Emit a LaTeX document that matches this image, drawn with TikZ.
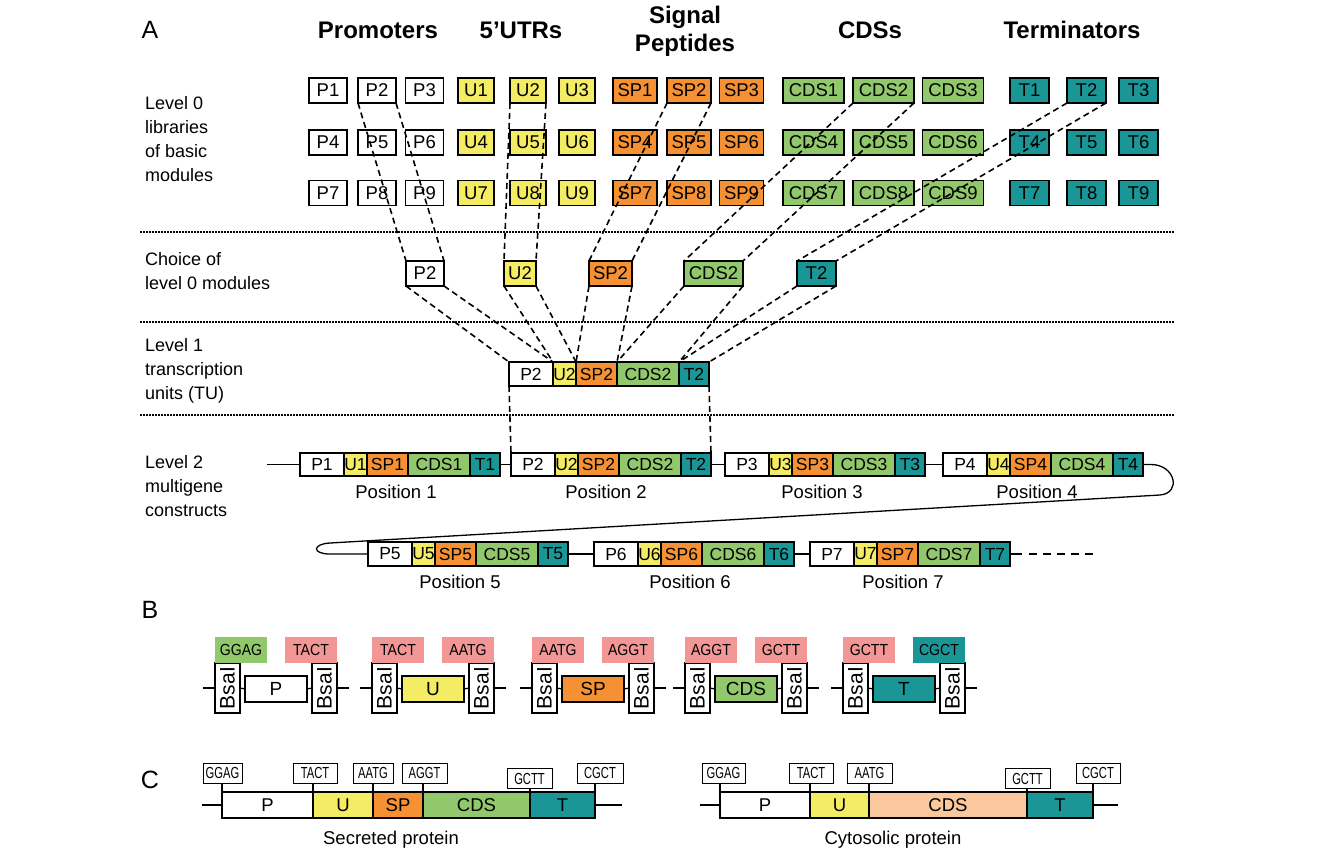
\documentclass[tikz,border=0pt]{standalone}
\usepackage{fontspec}
\setmainfont{Liberation Sans}
\newfontfamily\narrowf[FakeStretch=0.7]{Liberation Sans}
\newfontfamily\semif[FakeStretch=0.88]{Liberation Sans}
\usepackage{graphicx}
\definecolor{cyel}{RGB}{243,236,100}
\definecolor{corg}{RGB}{245,145,50}
\definecolor{cgrn}{RGB}{146,200,108}
\definecolor{cteal}{RGB}{26,150,150}
\definecolor{cpink}{RGB}{242,150,150}
\definecolor{cpeach}{RGB}{250,200,156}
\newcommand\tumod[5]{%
 \node[seg,minimum height=#5,minimum width=44pt,fill=white] (#1P) at (#2,#3) {P#4};
 \node[seg,minimum height=#5,minimum width=23pt,fill=cyel] (#1U) at (#1P.east) {U#4};
 \node[seg,minimum height=#5,minimum width=41pt,fill=corg] (#1S) at (#1U.east) {SP#4};
 \node[seg,minimum height=#5,minimum width=62pt,fill=cgrn] (#1C) at (#1S.east) {CDS#4};
 \node[seg,minimum height=#5,minimum width=30pt,fill=cteal] (#1T) at (#1C.east) {T#4};}
\begin{document}
\begin{tikzpicture}[x=1pt,y=-1pt,
 lib/.style={draw,line width=1.3pt,inner sep=0pt,outer sep=0pt,minimum height=25pt,font=\fontsize{18.5}{20}\selectfont},
 seg/.style={draw,line width=1.3pt,inner sep=0pt,outer sep=0pt,font=\fontsize{17.5}{20}\selectfont,anchor=west},
 conn/.style={line width=1.6pt,dash pattern=on 6pt off 4pt},
 sepline/.style={line width=1.5pt,dash pattern=on 1.5pt off 1.5pt},
 wire/.style={line width=1.3pt},
 lab/.style={font=\fontsize{18}{24}\selectfont,align=left,anchor=west,inner sep=0pt},
 head/.style={font=\fontsize{24}{28}\selectfont\bfseries,align=center,inner sep=0pt},
 letter/.style={font=\fontsize{25}{28}\selectfont,inner sep=0pt},
 poslab/.style={font=\fontsize{18.5}{22}\selectfont,inner sep=0pt},
 bsa/.style={draw,fill=white,line width=1.3pt,inner sep=0pt,outer sep=0pt,minimum width=25pt,minimum height=50pt,font=\fontsize{21}{22}\selectfont},
 bbox/.style={draw,line width=1.3pt,inner sep=0pt,outer sep=0pt,minimum height=26pt,font=\fontsize{19}{22}\selectfont},
 tag/.style={inner sep=0pt,minimum width=52pt,minimum height=26pt,font=\semif\fontsize{16}{18}\selectfont},
 cseg/.style={draw,line width=1.3pt,inner sep=0pt,outer sep=0pt,minimum height=26pt,anchor=west,font=\fontsize{18.5}{22}\selectfont},
 ctag/.style={draw,fill=white,line width=1pt,inner sep=0pt,outer sep=0pt,minimum height=20pt,font=\narrowf\fontsize{16}{18}\selectfont}
]
\useasboundingbox (0,0) rectangle (1324,857);
\fill[white] (0,0) rectangle (1324,857);
% letters and headings
\node[letter] (LA) at (150,30) {A};
\node[letter] (LB) at (150,610) {B};
\node[letter] (LC) at (150,780) {C};
\node[head] (hP) at (378,30) {Promoters};
\node[head] (hU) at (521,30) {5’UTRs};
\node[head] (hS) at (685,31) {Signal\\Peptides};
\node[head] (hC) at (870,30) {CDSs};
\node[head] (hT) at (1072,30) {Terminators};
% left labels
\node[lab] (lv0) at (145,139) {Level 0\\libraries\\of basic\\modules};
\node[lab] (lvc) at (145,271) {Choice of\\level 0 modules};
\node[lab] (lv1) at (145,370.5) {Level 1\\transcription\\units (TU)};
\node[lab] (lv2) at (145,486.5) {Level 2\\multigene\\constructs};
% separators
\foreach \yy in {232,322,415}{
 \coordinate (sa) at (140,\yy); \coordinate (sb) at (1175,\yy);
 \draw[sepline] (sa) -- (sb);}
% level 0 libraries
\foreach \r/\y in {0/90.5,1/142.5,2/193}{
 \foreach \c/\xp/\xu/\xs/\xc/\xt in {1/328/476/635/813.5/1029.5, 2/377/528/689/883.5/1086.5, 3/424.5/577/741.5/953/1138.5}{
  \pgfmathtruncatemacro\k{3*\r+\c}
  \node[lib,fill=white,minimum width=38pt] (p\k) at (\xp,\y) {P\k};
  \node[lib,fill=cyel,minimum width=36pt] (u\k) at (\xu,\y) {U\k};
  \node[lib,fill=corg,minimum width=44pt] (sp\k) at (\xs,\y) {SP\k};
  \node[lib,fill=cgrn,minimum width=61pt] (cds\k) at (\xc,\y) {CDS\k};
  \node[lib,fill=cteal,minimum width=39pt] (t\k) at (\xt,\y) {T\k};
 }}
% choice
\node[lib,fill=white,minimum width=38pt] (cp) at (425,273.5) {P2};
\node[lib,fill=cyel,minimum width=32pt] (cu) at (520,273.5) {U2};
\node[lib,fill=corg,minimum width=43pt] (csp) at (610.5,273.5) {SP2};
\node[lib,fill=cgrn,minimum width=59pt] (ccds) at (713.5,273.5) {CDS2};
\node[lib,fill=cteal,minimum width=39pt] (ct) at (816.5,273.5) {T2};
% level 1
\tumod{L}{509}{374}{2}{24pt}
% level 2
\tumod{a}{300}{464.5}{1}{23pt}
\tumod{b}{511}{464.5}{2}{23pt}
\tumod{c}{725}{464.5}{3}{23pt}
\tumod{d}{943}{464.5}{4}{23pt}
\tumod{e}{368}{554}{5}{24pt}
\tumod{f}{594}{554}{6}{24pt}
\tumod{g}{810}{554}{7}{24pt}
\node[poslab] (pos1) at (396,492) {Position 1};
\node[poslab] (pos2) at (606,492) {Position 2};
\node[poslab] (pos3) at (822,492) {Position 3};
\node[poslab] (pos4) at (1037,492) {Position 4};
\node[poslab] (pos5) at (460,582) {Position 5};
\node[poslab] (pos6) at (690,582) {Position 6};
\node[poslab] (pos7) at (903,582) {Position 7};
% wires of level 2
\coordinate (r1s) at (267,464.5);
\coordinate (k1) at (1160,495);
\coordinate (k2) at (330,543);
\coordinate (k3) at (330,554);
\coordinate (rend) at (1094,554);
\draw[wire] (r1s) -- (aP.west);
\draw[wire] (aT.east) -- (bP.west);
\draw[wire] (bT.east) -- (cP.west);
\draw[wire] (cT.east) -- (dP.west);
\draw[wire] (dT.east) -- ++(8,0) .. controls +(24,0) and (1182,493) .. (k1) -- (k2) .. controls (312,544) and (312,554) .. (k3) -- (eP.west);
\draw[wire] (eT.east) -- (fP.west);
\draw[wire] (fT.east) -- (gP.west);
\draw[wire] (gT.east) -- ([xshift=12pt]gT.east);
\draw[wire,dash pattern=on 8pt off 6pt] ([xshift=19pt]gT.east) -- (rend);
% dashed connectors level 0 -> choice
\foreach \a/\b in {p2/cp,u2/cu,sp2/csp,cds2/ccds,t2/ct}{
 \draw[conn] (\a.south west) -- (\b.north west);
 \draw[conn] (\a.south east) -- (\b.north east);}
% choice -> level 1
\foreach \a/\b in {cp/LP,cu/LU,csp/LS,ccds/LC,ct/LT}{
 \draw[conn] (\a.south west) -- (\b.north west);
 \draw[conn] (\a.south east) -- (\b.north east);}
% level 1 -> level 2
\draw[conn] (LP.south west) -- (bP.north west);
\draw[conn] (LT.south east) -- (bT.north east);
% B section
\foreach \s/\nm/\lt/\lc/\rt/\rc/\col/\id in {215/P/GGAG/cgrn/TACT/cpink/white/bp, 372/U/TACT/cpink/AATG/cpink/cyel/bu, 532/SP/AATG/cpink/AGGT/cpink/corg/bs, 685/CDS/AGGT/cpink/GCTT/cpink/cgrn/bc, 843/T/GCTT/cpink/CGCT/cteal/cteal/bt}{
 \node[bsa] (\id-l) at (\s+12.5,688) {\rotatebox{90}{BsaI}};
 \node[bbox,fill=\col,minimum width=62pt] (\id-b) at (\s+61,689) {\nm};
 \node[bsa] (\id-r) at (\s+109.5,688) {\rotatebox{90}{BsaI}};
 \node[tag,fill=\lc] (\id-tl) at (\s+26,650) {\lt};
 \node[tag,fill=\rc] (\id-tr) at (\s+96,650) {\rt};
 \draw[wire] (\id-l.west) -- ++(-12,0);
 \draw[wire] (\id-l.east) -- (\id-b.west);
 \draw[wire] (\id-b.east) -- (\id-r.west);
 \draw[wire] (\id-r.east) -- ++(12,0);
}
% C section: secreted
\node[cseg,fill=white,minimum width=91pt] (sP) at (222,805) {P};
\node[cseg,fill=cyel,minimum width=60pt] (sU) at (sP.east) {U};
\node[cseg,fill=corg,minimum width=50pt] (sS) at (sU.east) {SP};
\node[cseg,fill=cgrn,minimum width=107pt] (sC) at (sS.east) {CDS};
\node[cseg,fill=cteal,minimum width=65pt] (sT) at (sC.east) {T};
\draw[wire] (sP.west) -- ++(-20,0);
\draw[wire] (sT.east) -- ++(27,0);
\node[ctag,minimum width=39pt] (s1) at (222.5,773) {GGAG};
\node[ctag,minimum width=44pt] (s2) at (315,773) {TACT};
\node[ctag,minimum width=40pt] (s3) at (373,773) {AATG};
\node[ctag,minimum width=45pt] (s4) at (424.5,773) {AGGT};
\node[ctag,minimum width=45pt] (s5) at (529.5,778.5) {GCTT};
\node[ctag,minimum width=46pt] (s6) at (600,773) {CGCT};
\draw[wire] (sP.north west |- s1.south) -- (sP.north west);
\draw[wire] (sU.north west |- s2.south) -- (sU.north west);
\draw[wire] (sS.north west |- s3.south) -- (sS.north west);
\draw[wire] (sC.north west |- s4.south) -- (sC.north west);
\draw[wire] (sT.north west |- s5.south) -- (sT.north west);
\draw[wire] (sT.north east |- s6.south) -- (sT.north east);
\node[poslab] (secl) at (391,840) {Secreted protein};
% C section: cytosolic
\node[cseg,fill=white,minimum width=90pt] (yP) at (720,805) {P};
\node[cseg,fill=cyel,minimum width=59pt] (yU) at (yP.east) {U};
\node[cseg,fill=cpeach,minimum width=158pt] (yC) at (yU.east) {CDS};
\node[cseg,fill=cteal,minimum width=66pt] (yT) at (yC.east) {T};
\draw[wire] (yP.west) -- ++(-20,0);
\draw[wire] (yT.east) -- ++(25,0);
\node[ctag,minimum width=43pt] (c1) at (723.5,773) {GGAG};
\node[ctag,minimum width=44pt] (c2) at (811,773) {TACT};
\node[ctag,minimum width=45pt] (c3) at (869.5,773) {AATG};
\node[ctag,minimum width=45pt] (c4) at (1027.5,778.5) {GCTT};
\node[ctag,minimum width=44pt] (c5) at (1098,773) {CGCT};
\draw[wire] (yP.north west |- c1.south) -- (yP.north west);
\draw[wire] (yU.north west |- c2.south) -- (yU.north west);
\draw[wire] (yC.north west |- c3.south) -- (yC.north west);
\draw[wire] (yT.north west |- c4.south) -- (yT.north west);
\draw[wire] (yT.north east |- c5.south) -- (yT.north east);
\node[poslab] (cytl) at (893,840) {Cytosolic protein};
\end{tikzpicture}
\end{document}
